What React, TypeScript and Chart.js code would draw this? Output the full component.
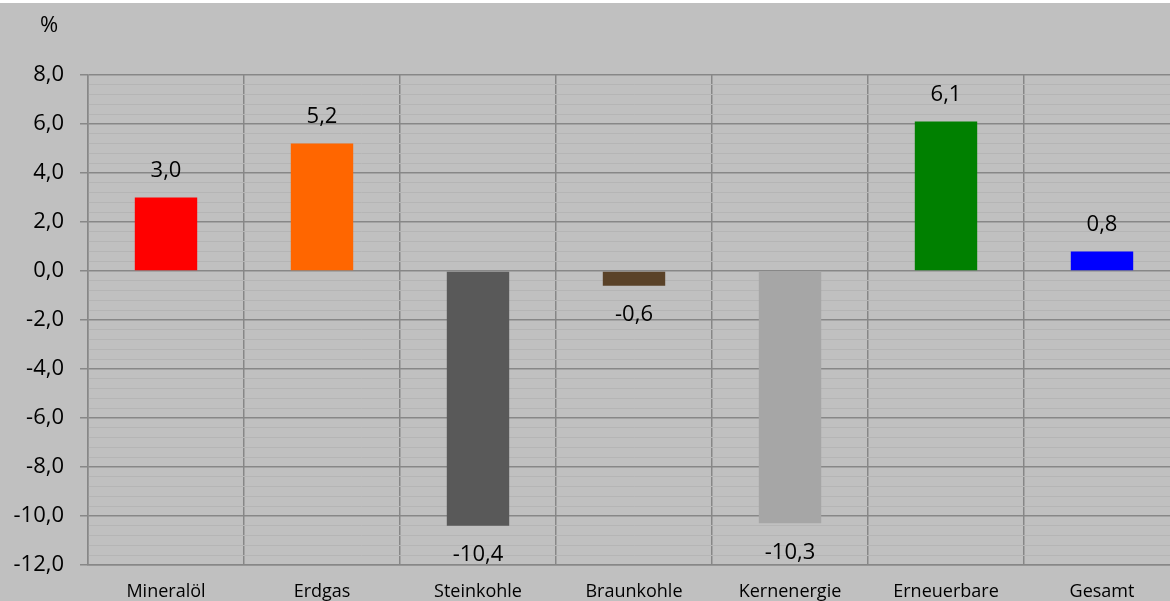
import React, { useEffect, useRef } from "react";
import { Chart, registerables } from "chart.js";

Chart.register(...registerables);

const categories = ["Mineralöl", "Erdgas", "Steinkohle", "Braunkohle", "Kernenergie", "Erneuerbare", "Gesamt"];
const values = [3.0, 5.2, -10.4, -0.6, -10.3, 6.1, 0.8];
const barColors = ["#ff0000", "#ff6600", "#595959", "#5a4228", "#a6a6a6", "#008000", "#0000ff"];
const yMin = -12;
const yMax = 8;
const minorStep = 0.4;
const majorStep = 2;
const unitLabel = "%";

const FONT = "'Open Sans', 'Noto Sans', sans-serif";
const MAJOR = "#878787";
const MINOR = "#b5b5b5";

const fmt = (v: number) => v.toFixed(1).replace(".", ",");
const isMajor = (v: number) => Math.abs(Math.round(v / majorStep) * majorStep - v) < 1e-6;

const labelPlugin = {
  id: "valueLabels",
  afterDatasetsDraw(chart: any) {
    const { ctx } = chart;
    const meta = chart.getDatasetMeta(0);
    ctx.save();
    ctx.font = `22px ${FONT}`;
    ctx.fillStyle = "#000000";
    ctx.textAlign = "center";
    ctx.textBaseline = "middle";
    meta.data.forEach((bar: any, i: number) => {
      const v = values[i];
      const y = v >= 0 ? bar.y - 27 : bar.y + 29;
      ctx.fillText(fmt(v), bar.x, y);
    });
    ctx.fillText(unitLabel, 49, 23);
    ctx.restore();
  },
};

export default function App() {
  const ref = useRef<HTMLCanvasElement>(null);
  useEffect(() => {
    if (!ref.current) return;
    const chart = new Chart(ref.current, {
      type: "bar",
      data: {
        labels: categories,
        datasets: [
          {
            data: values,
            backgroundColor: barColors,
            borderWidth: 0,
            barPercentage: 0.4,
            categoryPercentage: 1,
          },
        ],
      },
      options: {
        animation: false,
        responsive: false,
        devicePixelRatio: 1,
        layout: { padding: { top: 72, right: 2, left: 0, bottom: 0 } },
        plugins: { legend: { display: false }, tooltip: { enabled: false } },
        scales: {
          x: {
            offset: true,
            grid: { offset: true, color: MAJOR, lineWidth: 1.5, drawTicks: false },
            border: { color: MAJOR, width: 1.5 },
            ticks: { color: "#000000", font: { family: FONT, size: 18 }, padding: 16, maxRotation: 0, autoSkip: false },
            afterFit: (s: any) => {
              s.height = 36;
            },
          },
          y: {
            min: yMin,
            max: yMax,
            grid: {
              color: (c: any) => (isMajor(c.tick.value) ? MAJOR : MINOR),
              lineWidth: (c: any) => (isMajor(c.tick.value) ? 1.5 : 1),
              tickColor: (c: any) => (isMajor(c.tick.value) ? MAJOR : "rgba(0,0,0,0)"),
              tickLength: 8,
            },
            border: { color: MAJOR, width: 1.5 },
            ticks: {
              stepSize: minorStep,
              autoSkip: false,
              color: "#000000",
              font: { family: FONT, size: 22 },
              padding: 16,
              callback: (v: any) => (isMajor(Number(v)) ? fmt(Number(v)) : ""),
            },
            afterFit: (s: any) => {
              s.width = 88;
            },
          },
        },
      },
      plugins: [labelPlugin],
    });
    return () => chart.destroy();
  }, []);

  return (
    <div style={{ position: "fixed", left: 0, top: 0, width: 1170, height: 601, overflow: "hidden", background: "#ffffff" }}>
      <div style={{ position: "absolute", left: 0, top: 3, width: 1182, height: 598, background: "#c0c0c0" }}>
        <canvas ref={ref} width={1182} height={598} style={{ display: "block", width: 1182, height: 598 }} />
      </div>
    </div>
  );
}
